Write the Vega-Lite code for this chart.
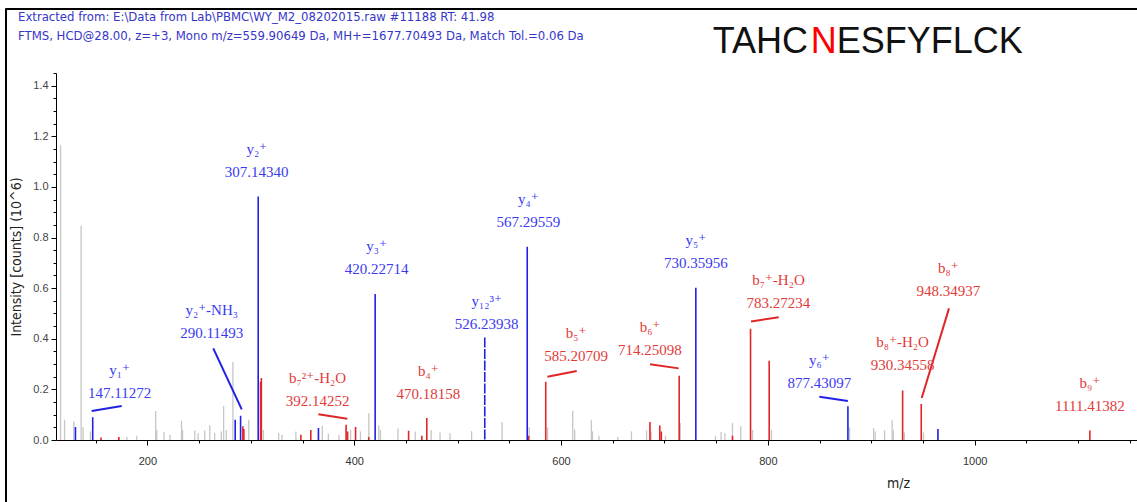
{
  "$schema": "https://vega.github.io/schema/vega-lite/v6.json",
  "width": 1081,
  "height": 367,
  "autosize": "none",
  "padding": {"left": 56, "top": 73, "right": 0, "bottom": 62},
  "background": "white",
  "config": {"view": {"stroke": null}},
  "datasets": {
    "peaks": [
      {"mz": 116.0, "intensity": 1.166, "series": "unassigned"},
      {"mz": 119.9, "intensity": 0.08, "series": "unassigned"},
      {"mz": 128.8, "intensity": 0.073, "series": "unassigned"},
      {"mz": 135.9, "intensity": 0.846, "series": "unassigned"},
      {"mz": 137.8, "intensity": 0.05, "series": "unassigned"},
      {"mz": 144.9, "intensity": 0.034, "series": "unassigned"},
      {"mz": 180.1, "intensity": 0.012, "series": "unassigned"},
      {"mz": 189.7, "intensity": 0.017, "series": "unassigned"},
      {"mz": 208.0, "intensity": 0.115, "series": "unassigned"},
      {"mz": 209.0, "intensity": 0.04, "series": "unassigned"},
      {"mz": 216.0, "intensity": 0.031, "series": "unassigned"},
      {"mz": 221.8, "intensity": 0.021, "series": "unassigned"},
      {"mz": 233.0, "intensity": 0.076, "series": "unassigned"},
      {"mz": 234.0, "intensity": 0.04, "series": "unassigned"},
      {"mz": 245.8, "intensity": 0.038, "series": "unassigned"},
      {"mz": 249.0, "intensity": 0.028, "series": "unassigned"},
      {"mz": 255.4, "intensity": 0.038, "series": "unassigned"},
      {"mz": 260.3, "intensity": 0.058, "series": "unassigned"},
      {"mz": 265.0, "intensity": 0.028, "series": "unassigned"},
      {"mz": 271.5, "intensity": 0.034, "series": "unassigned"},
      {"mz": 273.7, "intensity": 0.135, "series": "unassigned"},
      {"mz": 276.3, "intensity": 0.04, "series": "unassigned"},
      {"mz": 282.7, "intensity": 0.308, "series": "unassigned"},
      {"mz": 298.0, "intensity": 0.08, "series": "unassigned"},
      {"mz": 312.2, "intensity": 0.04, "series": "unassigned"},
      {"mz": 326.9, "intensity": 0.028, "series": "unassigned"},
      {"mz": 330.1, "intensity": 0.021, "series": "unassigned"},
      {"mz": 343.6, "intensity": 0.034, "series": "unassigned"},
      {"mz": 369.2, "intensity": 0.056, "series": "unassigned"},
      {"mz": 375.0, "intensity": 0.025, "series": "unassigned"},
      {"mz": 385.3, "intensity": 0.021, "series": "unassigned"},
      {"mz": 396.5, "intensity": 0.04, "series": "unassigned"},
      {"mz": 406.0, "intensity": 0.034, "series": "unassigned"},
      {"mz": 414.1, "intensity": 0.106, "series": "unassigned"},
      {"mz": 423.7, "intensity": 0.058, "series": "unassigned"},
      {"mz": 425.3, "intensity": 0.04, "series": "unassigned"},
      {"mz": 442.3, "intensity": 0.045, "series": "unassigned"},
      {"mz": 459.0, "intensity": 0.034, "series": "unassigned"},
      {"mz": 474.4, "intensity": 0.04, "series": "unassigned"},
      {"mz": 483.0, "intensity": 0.03, "series": "unassigned"},
      {"mz": 492.6, "intensity": 0.028, "series": "unassigned"},
      {"mz": 513.5, "intensity": 0.035, "series": "unassigned"},
      {"mz": 543.0, "intensity": 0.071, "series": "unassigned"},
      {"mz": 569.2, "intensity": 0.05, "series": "unassigned"},
      {"mz": 587.0, "intensity": 0.05, "series": "unassigned"},
      {"mz": 611.3, "intensity": 0.116, "series": "unassigned"},
      {"mz": 613.2, "intensity": 0.041, "series": "unassigned"},
      {"mz": 629.3, "intensity": 0.08, "series": "unassigned"},
      {"mz": 630.4, "intensity": 0.034, "series": "unassigned"},
      {"mz": 636.6, "intensity": 0.017, "series": "unassigned"},
      {"mz": 654.9, "intensity": 0.012, "series": "unassigned"},
      {"mz": 668.1, "intensity": 0.034, "series": "unassigned"},
      {"mz": 682.7, "intensity": 0.038, "series": "unassigned"},
      {"mz": 687.1, "intensity": 0.034, "series": "unassigned"},
      {"mz": 701.0, "intensity": 0.017, "series": "unassigned"},
      {"mz": 715.3, "intensity": 0.067, "series": "unassigned"},
      {"mz": 749.3, "intensity": 0.017, "series": "unassigned"},
      {"mz": 754.8, "intensity": 0.032, "series": "unassigned"},
      {"mz": 758.5, "intensity": 0.028, "series": "unassigned"},
      {"mz": 765.8, "intensity": 0.067, "series": "unassigned"},
      {"mz": 773.8, "intensity": 0.054, "series": "unassigned"},
      {"mz": 785.2, "intensity": 0.04, "series": "unassigned"},
      {"mz": 803.5, "intensity": 0.04, "series": "unassigned"},
      {"mz": 879.0, "intensity": 0.05, "series": "unassigned"},
      {"mz": 902.3, "intensity": 0.047, "series": "unassigned"},
      {"mz": 903.8, "intensity": 0.034, "series": "unassigned"},
      {"mz": 912.9, "intensity": 0.038, "series": "unassigned"},
      {"mz": 920.2, "intensity": 0.078, "series": "unassigned"},
      {"mz": 921.3, "intensity": 0.04, "series": "unassigned"},
      {"mz": 932.0, "intensity": 0.03, "series": "unassigned"},
      {"mz": 950.5, "intensity": 0.03, "series": "unassigned"},
      {"mz": 155.1, "intensity": 0.01, "series": "b"},
      {"mz": 172.4, "intensity": 0.012, "series": "b"},
      {"mz": 292.3, "intensity": 0.054, "series": "b"},
      {"mz": 293.3, "intensity": 0.043, "series": "b"},
      {"mz": 309.4, "intensity": 0.23, "series": "b"},
      {"mz": 310.2, "intensity": 0.245, "series": "b"},
      {"mz": 348.4, "intensity": 0.021, "series": "b"},
      {"mz": 358.0, "intensity": 0.04, "series": "b"},
      {"mz": 392.14, "intensity": 0.06, "series": "b"},
      {"mz": 393.6, "intensity": 0.034, "series": "b"},
      {"mz": 401.3, "intensity": 0.051, "series": "b"},
      {"mz": 414.0, "intensity": 0.012, "series": "b"},
      {"mz": 452.6, "intensity": 0.037, "series": "b"},
      {"mz": 465.4, "intensity": 0.017, "series": "b"},
      {"mz": 470.18, "intensity": 0.087, "series": "b"},
      {"mz": 568.6, "intensity": 0.017, "series": "b"},
      {"mz": 585.21, "intensity": 0.23, "series": "b"},
      {"mz": 686.0, "intensity": 0.071, "series": "b"},
      {"mz": 695.5, "intensity": 0.057, "series": "b"},
      {"mz": 697.0, "intensity": 0.034, "series": "b"},
      {"mz": 714.25, "intensity": 0.254, "series": "b"},
      {"mz": 765.8, "intensity": 0.017, "series": "b"},
      {"mz": 783.27, "intensity": 0.44, "series": "b"},
      {"mz": 801.3, "intensity": 0.313, "series": "b"},
      {"mz": 930.35, "intensity": 0.196, "series": "b"},
      {"mz": 948.35, "intensity": 0.142, "series": "b"},
      {"mz": 1111.41, "intensity": 0.038, "series": "b"},
      {"mz": 130.4, "intensity": 0.051, "series": "y"},
      {"mz": 147.11, "intensity": 0.09, "series": "y"},
      {"mz": 284.9, "intensity": 0.08, "series": "y"},
      {"mz": 290.11, "intensity": 0.096, "series": "y"},
      {"mz": 307.14, "intensity": 0.962, "series": "y"},
      {"mz": 365.4, "intensity": 0.047, "series": "y"},
      {"mz": 420.23, "intensity": 0.577, "series": "y"},
      {"mz": 526.24, "intensity": 0.405, "series": "y"},
      {"mz": 567.3, "intensity": 0.764, "series": "y"},
      {"mz": 730.36, "intensity": 0.602, "series": "y"},
      {"mz": 877.43, "intensity": 0.133, "series": "y"},
      {"mz": 964.5, "intensity": 0.043, "series": "y"}
    ],
    "leaders": [
      {"mz": 146.1, "intensity": 0.115, "mz2": 175.1, "intensity2": 0.134, "series": "y"},
      {"mz": 263.7, "intensity": 0.362, "mz2": 291.2, "intensity2": 0.121, "series": "y"},
      {"mz": 365.3, "intensity": 0.102, "mz2": 393.3, "intensity2": 0.084, "series": "b"},
      {"mz": 586.8, "intensity": 0.25, "mz2": 615.2, "intensity2": 0.273, "series": "b"},
      {"mz": 686.1, "intensity": 0.299, "mz2": 713.8, "intensity2": 0.283, "series": "b"},
      {"mz": 783.7, "intensity": 0.468, "mz2": 810.5, "intensity2": 0.485, "series": "b"},
      {"mz": 849.8, "intensity": 0.171, "mz2": 877.4, "intensity2": 0.154, "series": "y"},
      {"mz": 975.2, "intensity": 0.52, "mz2": 948.8, "intensity2": 0.166, "series": "b"}
    ],
    "frame": [
      {"mz": 63.25, "intensity": -0.3, "mz2": 63.25, "intensity2": 1.703},
      {"mz": 62.5, "intensity": 1.703, "mz2": 1160, "intensity2": 1.703}
    ],
    "labels": [
      {"ion": "y₁⁺", "mzText": "147.11272", "series": "y", "mz": 173.2, "intensity": 0.23},
      {"ion": "y₂⁺-NH₃", "mzText": "290.11493", "series": "y", "mz": 262.2, "intensity": 0.467},
      {"ion": "y₂⁺", "mzText": "307.14340", "series": "y", "mz": 305.7, "intensity": 1.104},
      {"ion": "b₇²⁺-H₂O", "mzText": "392.14252", "series": "b", "mz": 364.5, "intensity": 0.198},
      {"ion": "y₃⁺", "mzText": "420.22714", "series": "y", "mz": 421.7, "intensity": 0.72},
      {"ion": "b₄⁺", "mzText": "470.18158", "series": "b", "mz": 471.6, "intensity": 0.227},
      {"ion": "y₁₂³⁺", "mzText": "526.23938", "series": "y", "mz": 528.1, "intensity": 0.502},
      {"ion": "y₄⁺", "mzText": "567.29559", "series": "y", "mz": 568.4, "intensity": 0.905},
      {"ion": "b₅⁺", "mzText": "585.20709", "series": "b", "mz": 614.5, "intensity": 0.379},
      {"ion": "b₆⁺", "mzText": "714.25098", "series": "b", "mz": 686.0, "intensity": 0.4},
      {"ion": "y₅⁺", "mzText": "730.35956", "series": "y", "mz": 730.4, "intensity": 0.744},
      {"ion": "b₇⁺-H₂O", "mzText": "783.27234", "series": "b", "mz": 810.3, "intensity": 0.586},
      {"ion": "y₆⁺", "mzText": "877.43097", "series": "y", "mz": 849.8, "intensity": 0.27},
      {"ion": "b₈⁺-H₂O", "mzText": "930.34558", "series": "b", "mz": 930.35, "intensity": 0.34},
      {"ion": "b₈⁺", "mzText": "948.34937", "series": "b", "mz": 974.5, "intensity": 0.634},
      {"ion": "b₉⁺", "mzText": "1111.41382", "series": "b", "mz": 1111.41, "intensity": 0.181}
    ],
    "sequence": [
      {"segment": "TAHC", "modified": false, "mz": 746.7, "intensity": 1.528},
      {"segment": "N", "modified": true, "mz": 841.5, "intensity": 1.528},
      {"segment": "ESFYFLCK", "modified": false, "mz": 866.6, "intensity": 1.528}
    ],
    "header": [
      {"line": "Extracted from: E:\\Data from Lab\\PBMC\\WY_M2_08202015.raw  #11188   RT: 41.98", "mz": 74.85, "intensity": 1.672},
      {"line": "FTMS, HCD@28.00, z=+3, Mono m/z=559.90649 Da, MH+=1677.70493 Da, Match Tol.=0.06 Da", "mz": 74.85, "intensity": 1.597}
    ]
  },
  "encoding": {
    "x": {
      "field": "mz",
      "type": "quantitative",
      "scale": {"domain": [111.6, 1157], "nice": false, "zero": false},
      "axis": {
        "title": "m/z",
        "values": [150, 200, 250, 300, 350, 400, 450, 500, 550, 600, 650, 700, 750, 800, 850, 900, 950, 1000, 1050, 1100, 1150],
        "format": "d",
        "labelExpr": "datum.value % 200 === 0 ? datum.label : ''",
        "tickSize": {"condition": {"test": "datum.value % 200 === 0", "value": 5}, "value": 3},
        "tickColor": "#000000",
        "domainColor": "#000000",
        "labelFont": "Liberation Sans, Arial, sans-serif",
        "labelFontSize": 11,
        "labelColor": "#333333",
        "labelPadding": 10,
        "grid": false,
        "titleFont": "Liberation Sans Narrow, DejaVu Sans Condensed, sans-serif",
        "titleFontSize": 14,
        "titleFontWeight": "normal",
        "titleColor": "#222222",
        "titleX": 842,
        "titleY": 43,
        "titleAlign": "center",
        "titleBaseline": "middle"
      }
    },
    "y": {
      "field": "intensity",
      "type": "quantitative",
      "scale": {"domain": [0, 1.45], "nice": false, "zero": false},
      "axis": {
        "title": "Intensity [counts] (10^6)",
        "values": [0, 0.05, 0.1, 0.15, 0.2, 0.25, 0.3, 0.35, 0.4, 0.45, 0.5, 0.55, 0.6, 0.65, 0.7, 0.75, 0.8, 0.85, 0.9, 0.95, 1, 1.05, 1.1, 1.15, 1.2, 1.25, 1.3, 1.35, 1.4, 1.45],
        "labelExpr": "round(datum.value * 100) % 20 === 0 ? format(datum.value, '.1f') : ''",
        "tickSize": {"condition": {"test": "round(datum.value * 100) % 20 === 0", "value": 5}, "value": 3},
        "tickColor": "#000000",
        "domainColor": "#000000",
        "labelFont": "Liberation Sans, Arial, sans-serif",
        "labelFontSize": 11,
        "labelColor": "#444444",
        "labelPadding": 3,
        "grid": false,
        "titleFont": "Liberation Sans Narrow, DejaVu Sans Condensed, sans-serif",
        "titleFontSize": 14,
        "titleFontWeight": "normal",
        "titleColor": "#222222",
        "titlePadding": 9
      }
    }
  },
  "layer": [
    {
      "data": {"name": "frame"},
      "mark": {"type": "rule", "color": "#000000", "strokeWidth": 2, "clip": false},
      "encoding": {
        "x2": {"field": "mz2"},
        "y2": {"field": "intensity2"}
      }
    },
    {
      "data": {"name": "peaks"},
      "transform": [{"filter": "datum.series === 'unassigned'"}],
      "mark": {"type": "rule", "color": "#c6c6c6", "strokeWidth": 1.3},
      "encoding": {"y2": {"datum": 0}}
    },
    {
      "data": {"name": "peaks"},
      "transform": [{"filter": "datum.series !== 'unassigned'"}],
      "mark": {"type": "rule", "strokeWidth": 1.6},
      "encoding": {
        "y2": {"datum": 0},
        "color": {"condition": {"test": "datum.series === 'y'", "value": "#2020e6"}, "value": "#e02626"},
        "strokeDash": {"condition": {"test": "datum.mz === 526.24", "value": [10, 1.5]}, "value": [1, 0]},
        "strokeWidth": {"condition": {"test": "datum.mz === 526.24", "value": 2.5}, "value": 1.6}
      }
    },
    {
      "data": {"name": "leaders"},
      "mark": {"type": "rule", "strokeWidth": 2},
      "encoding": {
        "x2": {"field": "mz2"},
        "y2": {"field": "intensity2"},
        "color": {"condition": {"test": "datum.series === 'y'", "value": "#2020e6"}, "value": "#e02626"}
      }
    },
    {
      "data": {"name": "labels"},
      "mark": {"type": "text", "font": "Liberation Serif, DejaVu Serif, serif", "fontSize": 15, "align": "center", "baseline": "middle", "dy": -11.5},
      "encoding": {
        "text": {"field": "ion"},
        "color": {"condition": {"test": "datum.series === 'y'", "value": "#3a3af0"}, "value": "#e23a3a"}
      }
    },
    {
      "data": {"name": "labels"},
      "mark": {"type": "text", "font": "Liberation Serif, DejaVu Serif, serif", "fontSize": 15, "align": "center", "baseline": "middle", "dy": 11.5},
      "encoding": {
        "text": {"field": "mzText"},
        "color": {"condition": {"test": "datum.series === 'y'", "value": "#3a3af0"}, "value": "#e23a3a"}
      }
    },
    {
      "data": {"name": "sequence"},
      "mark": {"type": "text", "font": "Liberation Sans, Arial, sans-serif", "fontSize": 36, "align": "left", "baseline": "alphabetic", "clip": false},
      "encoding": {
        "text": {"field": "segment"},
        "color": {"condition": {"test": "datum.modified", "value": "#ff0000"}, "value": "#111111"}
      }
    },
    {
      "data": {"name": "header"},
      "mark": {"type": "text", "font": "Liberation Sans Narrow, DejaVu Sans Condensed, sans-serif", "fontSize": 13, "align": "left", "baseline": "middle", "color": "#3636c8", "clip": false},
      "encoding": {
        "text": {"field": "line"}
      }
    }
  ]
}
